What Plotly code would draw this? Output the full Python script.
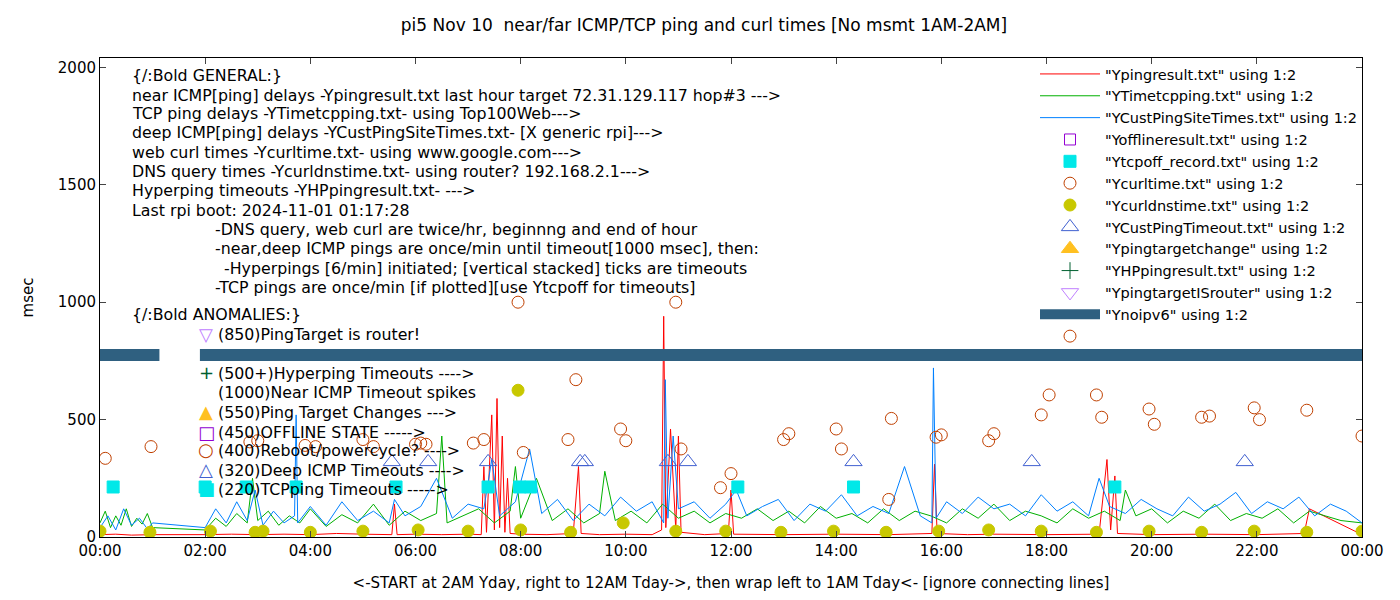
import plotly.graph_objects as go

# ── Data (hours since midnight, msec) ─────────────────────────────────────────
ping_x = [0, 0.3, 0.6, 1.0, 2.0, 2.5, 3.0, 3.5, 4.0, 4.5, 5.0, 5.55, 5.6, 5.65, 6.0, 6.5, 7.0, 7.25,
          7.3, 7.35, 7.45, 7.5, 7.55, 7.6, 7.65, 7.7, 7.75, 7.8, 8.0, 8.5, 9.0, 9.1, 9.15, 9.5, 10.0,
          10.5, 10.68, 10.72, 10.76, 10.85, 10.95, 11.0, 11.05, 11.5, 11.95, 12.0, 12.05, 13.0,
          14.0, 15.0, 15.82, 15.87, 15.92, 16.5, 17.0, 18.0, 19.0, 19.15, 19.22, 19.3, 19.35, 20.0,
          21.0, 22.0, 22.9, 23.0, 24.0]
ping_y = [10, 12, 8, 10, 10, 12, 10, 12, 10, 15, 12, 10, 140, 10, 12, 10, 12, 10,
          300, 20, 520, 30, 590, 40, 430, 20, 250, 15, 12, 10, 15, 300, 15, 10, 12,
          10, 30, 940, 40, 460, 30, 430, 20, 10, 15, 200, 12, 10,
          12, 10, 15, 310, 15, 10, 12, 10, 12, 330, 30, 260, 15, 10,
          12, 10, 15, 120, 10]

tcp_x = [0, 0.1, 0.2, 0.3, 0.4, 0.5, 0.6, 0.7, 0.8, 0.9, 1.0, 2.0, 2.2, 2.4, 2.6, 2.8, 2.9, 3.0,
         3.2, 3.4, 3.6, 3.8, 4.0, 4.3, 4.6, 4.9, 5.2, 5.5, 5.8, 6.1, 6.4, 6.5, 6.6, 6.9, 7.2, 7.5,
         7.8, 7.9, 8.0, 8.3, 8.6, 8.9, 9.2, 9.5, 9.6, 9.8, 10.1, 10.4, 10.7, 11.0, 11.3, 11.6, 11.9,
         12.2, 12.5, 12.8, 13.1, 13.4, 13.7, 14.0, 14.3, 14.6, 14.9, 15.2, 15.5, 15.8, 16.1, 16.4,
         16.7, 17.0, 17.3, 17.6, 17.9, 18.2, 18.5, 18.8, 19.1, 19.4, 19.5, 19.7, 20.0, 20.3, 20.6,
         20.9, 21.2, 21.5, 21.8, 22.1, 22.4, 22.7, 23.0, 23.3, 23.6, 24.0]
tcp_y = [60, 110, 40, 90, 50, 120, 45, 80, 55, 100, 40, 30, 80, 45, 100, 60, 250, 70,
         110, 50, 90, 60, 120, 45, 95, 60, 140, 50, 110, 70, 100, 430, 60, 90, 120, 60,
         110, 300, 80, 250, 70, 120, 60, 100, 280, 70, 110, 60, 140, 80, 110, 60, 100,
         80, 120, 70, 110, 60, 130, 80, 100, 60, 120, 70, 110, 90, 60, 120,
         80, 140, 70, 110, 90, 60, 120, 80, 110, 70, 200, 90, 120, 60, 110,
         80, 140, 70, 100, 80, 120, 60, 110, 90, 70, 60]

cust_x = [0, 0.15, 0.3, 0.45, 0.6, 0.75, 0.9, 1.0, 2.0, 2.2, 2.4, 2.6, 2.8, 2.95, 3.1, 3.3, 3.5,
          3.7, 3.73, 3.76, 4.0, 4.3, 4.6, 4.9, 5.2, 5.5, 5.6, 5.8, 6.1, 6.4, 6.7, 7.0, 7.3, 7.45,
          7.6, 7.9, 8.17, 8.4, 8.7, 9.0, 9.3, 9.6, 9.9, 10.2, 10.5, 10.72, 10.75, 10.8, 10.9, 11.0,
          11.3, 11.6, 11.9, 12.1, 12.3, 12.6, 12.9, 13.2, 13.5, 13.8, 14.1, 14.4, 14.7, 15.0,
          15.3, 15.6, 15.82, 15.85, 15.9, 16.1, 16.4, 16.7, 17.0, 17.3, 17.6, 17.9, 18.2, 18.5,
          18.8, 19.0, 19.2, 19.5, 19.8, 20.1, 20.4, 20.7, 21.0, 21.3, 21.6, 21.9, 22.2, 22.5,
          22.8, 23.1, 23.4, 23.7, 24.0]
cust_y = [40, 90, 30, 120, 50, 80, 35, 60, 40, 120, 60, 150, 70, 200, 50, 110, 60,
          90, 520, 60, 130, 50, 150, 70, 110, 60, 160, 90, 130, 250, 80, 140, 120, 330,
          90, 150, 375, 100, 160, 70, 140, 90, 170, 110, 150, 60, 670, 80, 430, 120,
          150, 80, 140, 200, 90, 130, 160, 70, 140, 110, 180, 90, 130, 100,
          300, 90, 60, 720, 80, 150, 100, 170, 120, 140, 90, 180, 110, 150,
          90, 250, 130, 100, 160, 120, 90, 170, 110, 140, 190, 100, 150, 120,
          170, 90, 140, 110, 60]

tcpoff_x = [0.25, 2.0, 2.78, 3.73, 5.63, 7.38, 7.98, 8.19, 12.13, 14.33, 19.3]
tcpoff_y = [213, 213, 213, 213, 213, 213, 213, 213, 213, 213, 213]

curl_x = [0.1, 0.97, 2.85, 3.0, 3.9, 4.1, 5.0, 5.2, 6.0, 6.1, 6.2, 7.1, 7.3, 7.95, 8.05, 8.9,
          9.05, 9.9, 10.0, 10.95, 11.05, 11.8, 12.0, 13.0, 13.1, 14.0, 14.1, 15.0, 15.05, 15.9,
          16.0, 16.9, 17.0, 17.9, 18.05, 18.95, 19.05, 19.95, 20.05, 20.95, 21.1, 21.95, 22.05,
          22.95, 24.0]
curl_y = [335, 385, 405, 410, 390, 385, 415, 385, 395, 400, 395, 400, 415, 1000, 360, 415,
          670, 460, 410, 1000, 375, 210, 270, 415, 440, 460, 375, 160, 505, 425,
          435, 410, 440, 520, 605, 605, 510, 545, 480, 510, 515, 550, 500,
          540, 430]

dns_x = [0.0, 0.95, 2.1, 2.95, 3.1, 4.0, 5.0, 6.05, 7.0, 7.95, 8.0, 8.95, 9.95, 10.95, 11.9,
         12.95, 13.95, 14.95, 15.95, 16.9, 17.9, 18.95, 19.95, 20.95, 21.95, 22.95, 24.0]
dns_y = [25, 20, 25, 20, 25, 20, 25, 30, 25, 625, 30, 20, 60, 25, 25,
         20, 25, 20, 25, 30, 25, 20, 25, 20, 25, 20, 25]

deep_x = [5.55, 6.24, 7.38, 9.13, 9.22, 10.8, 11.18, 14.33, 17.72, 21.77]
deep_y = [320, 320, 320, 320, 320, 320, 320, 320, 320, 320]

noipv6_x = [0, 1.13, None, 1.9, 24.0]
noipv6_y = [775, 775, None, 775, 775]

# series with nothing in view today (kept outside the plotted range)
empty_x = [-5]
empty_y = [-500]

FONT = 'DejaVu Sans'
PAGE_OFF = 8                          # browser body margin
X0, X1, Y0, Y1 = 100, 1362, 537, 58   # plot-area pixel box on screen

fig = go.Figure()

def line(x, y, name, color):
    fig.add_trace(go.Scatter(x=x, y=y, name=name, mode='lines',
                             line=dict(color=color, width=1)))

def pts(x, y, name, color, symbol, size=11):
    fig.add_trace(go.Scatter(x=x, y=y, name=name, mode='markers',
                             marker=dict(color=color, symbol=symbol, size=size,
                                         line=dict(color=color, width=1))))

line(ping_x, ping_y, '"Ypingresult.txt" using 1:2', '#ff0000')
line(tcp_x, tcp_y, '"YTimetcpping.txt" using 1:2', '#00b000')
line(cust_x, cust_y, '"YCustPingSiteTimes.txt" using 1:2', '#0080ff')
pts(empty_x, empty_y, '"Yofflineresult.txt" using 1:2', '#9400d3', 'square-open')
pts(tcpoff_x, tcpoff_y, '"Ytcpoff_record.txt" using 1:2', '#00e8e8', 'square', 12)
pts(curl_x, curl_y, '"Ycurltime.txt" using 1:2', '#c04000', 'circle-open', 12)
pts(dns_x, dns_y, '"Ycurldnstime.txt" using 1:2', '#c8c800', 'circle', 12)
pts(deep_x, deep_y, '"YCustPingTimeout.txt" using 1:2', '#4060d0', 'triangle-up-open', 15)
pts(empty_x, empty_y, '"Ypingtargetchange" using 1:2', '#ffc020', 'triangle-up', 15)
pts(empty_x, empty_y, '"YHPpingresult.txt" using 1:2', '#006030', 'cross-thin-open', 12)
pts(empty_x, empty_y, '"YpingtargetISrouter" using 1:2', '#c080ff', 'triangle-down-open', 15)
fig.add_trace(go.Scatter(x=noipv6_x, y=noipv6_y, name='"Ynoipv6" using 1:2', mode='lines',
                         line=dict(color='#2f6080', width=12)))
pts(empty_x, empty_y, ' ', '#c04000', 'circle-open', 12)

# ── Text block ────────────────────────────────────────────────────────────────
lines = [
    (130, 75, '{/:Bold GENERAL:}'),
    (130, 95, 'near ICMP[ping] delays -Ypingresult.txt last hour target 72.31.129.117 hop#3 --->'),
    (130, 114, 'TCP ping delays -YTimetcpping.txt- using Top100Web--->'),
    (130, 133, 'deep ICMP[ping] delays -YCustPingSiteTimes.txt- [X generic rpi]--->'),
    (130, 152, 'web curl times -Ycurltime.txt- using www.google.com--->'),
    (130, 171, 'DNS query times -Ycurldnstime.txt- using router? 192.168.2.1--->'),
    (130, 190, 'Hyperping timeouts -YHPpingresult.txt- --->'),
    (130, 210, 'Last rpi boot: 2024-11-01 01:17:28'),
    (213, 229, '-DNS query, web curl are twice/hr, beginnng and end of hour'),
    (213, 248, '-near,deep ICMP pings are once/min until timeout[1000 msec], then:'),
    (222, 268, '-Hyperpings [6/min] initiated; [vertical stacked] ticks are timeouts'),
    (213, 287, '-TCP pings are once/min [if plotted][use Ytcpoff for timeouts]'),
    (130, 315, '{/:Bold ANOMALIES:}'),
    (216, 334, '(850)PingTarget is router!'),
    (216, 373, '(500+)Hyperping Timeouts ---->'),
    (216, 392, '(1000)Near ICMP Timeout spikes'),
    (216, 412, '(550)Ping Target Changes --->'),
    (216, 432, '(450)OFFLINE STATE ----->'),
    (216, 450, '(400)Reboot/powercycle? ---->'),
    (216, 470, '(320)Deep ICMP Timeouts ---->'),
    (216, 489, '(220)TCPping Timeouts ----->'),
]
keys = [(334, '▽', '#c080ff'), (372, '+', '#006030'), (411, '▲', '#ffc020'),
        (432, '□', '#9400d3'), (449, '○', '#c04000'), (469, '△', '#4060d0'),
        (488, '■', '#00e8e8')]

def px2paper(px, py):
    return (px - X0) / (X1 - X0), (Y0 - py) / (Y0 - Y1)

annotations = []
for px, py, t in lines:
    ax, ay = px2paper(px, py)
    annotations.append(dict(x=ax, y=ay, xref='paper', yref='paper', text=t,
                            showarrow=False, xanchor='left', yanchor='middle',
                            font=dict(family=FONT, size=15.8, color='black')))
for py, sym, c in keys:
    ax, ay = px2paper(206, py)
    annotations.append(dict(x=ax, y=ay, xref='paper', yref='paper', text=sym,
                            showarrow=False, xanchor='center', yanchor='middle',
                            font=dict(family=FONT, size=18, color=c)))

tick_vals = [0, 2, 4, 6, 8, 10, 12, 14, 16, 18, 20, 22, 24]
tick_text = ['00:00', '02:00', '04:00', '06:00', '08:00', '10:00', '12:00',
             '14:00', '16:00', '18:00', '20:00', '22:00', '00:00']

fig.update_layout(
    width=1400, height=600,
    margin=dict(l=X0 - PAGE_OFF, r=1400 + PAGE_OFF - X1, t=Y1 - PAGE_OFF,
                b=600 + PAGE_OFF - Y0),
    paper_bgcolor='white', plot_bgcolor='white',
    font=dict(family=FONT, size=14, color='black'),
    title=dict(text='pi5 Nov 10  near/far ICMP/TCP ping and curl times [No msmt 1AM-2AM]',
               x=(704 - PAGE_OFF) / 1400, xanchor='center', y=1 - 11 / 600,
               font=dict(size=17)),
    showlegend=True,
    legend=dict(x=1, xanchor='right', y=1.0, yanchor='top', bgcolor='rgba(0,0,0,0)',
                font=dict(size=14.5), tracegroupgap=0, itemwidth=60),
    annotations=annotations,
    xaxis=dict(range=[0, 24], tickvals=tick_vals, ticktext=tick_text, showgrid=False,
               zeroline=False, showline=True, linecolor='black', mirror='ticks',
               ticks='inside', ticklen=6, tickfont=dict(size=15), automargin=False,
               title=dict(text='<-START at 2AM Yday, right to 12AM Tday->, then wrap left to 1AM Tday<- [ignore connecting lines]',
                          standoff=18, font=dict(size=15))),
    yaxis=dict(range=[0, 2040], tickvals=[0, 500, 1000, 1500, 2000], showgrid=False,
               zeroline=False, showline=True, linecolor='black', mirror='ticks',
               ticks='inside', ticklen=6, tickfont=dict(size=15), automargin=False,
               title=dict(text='msec', standoff=20, font=dict(size=15))),
)

fig.write_html('out.html')
